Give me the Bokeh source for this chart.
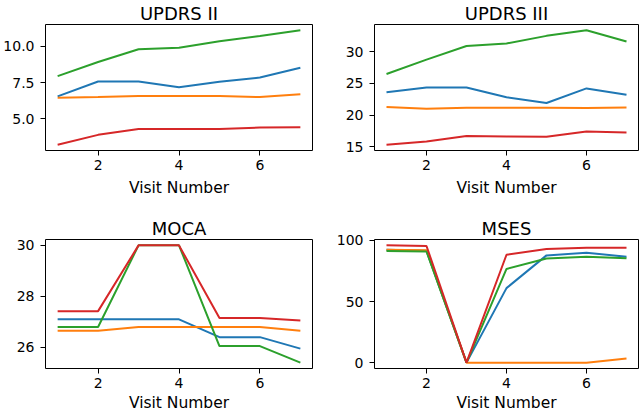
from bokeh.plotting import figure
from bokeh.layouts import gridplot
from bokeh.models import Range1d, FixedTicker, PrintfTickFormatter, Title
from bokeh.embed import file_html
from bokeh.resources import INLINE

visits = [1, 2, 3, 4, 5, 6, 7]
x_ticks = [2, 4, 6]
x_label = "Visit Number"
colors = ["#1f77b4", "#ff7f0e", "#2ca02c", "#d62728"]

# UPDRS II
updrs2_blue = [6.55, 7.57, 7.57, 7.18, 7.55, 7.84, 8.52]
updrs2_orange = [6.46, 6.50, 6.57, 6.57, 6.57, 6.50, 6.69]
updrs2_green = [7.94, 8.91, 9.78, 9.89, 10.34, 10.70, 11.09]
updrs2_red = [3.23, 3.91, 4.32, 4.32, 4.32, 4.41, 4.44]
updrs2_ticks = [5.0, 7.5, 10.0]

# UPDRS III
updrs3_blue = [23.6, 24.33, 24.33, 22.8, 21.9, 24.2, 23.2]
updrs3_orange = [21.25, 21.0, 21.15, 21.15, 21.15, 21.1, 21.2]
updrs3_green = [26.47, 28.75, 30.89, 31.3, 32.5, 33.39, 31.6]
updrs3_red = [15.3, 15.83, 16.67, 16.6, 16.55, 17.4, 17.25]
updrs3_ticks = [15, 20, 25, 30]

# MOCA
moca_blue = [27.1, 27.1, 27.1, 27.1, 26.4, 26.4, 25.95]
moca_orange = [26.65, 26.65, 26.8, 26.8, 26.8, 26.8, 26.65]
moca_green = [26.8, 26.8, 30.0, 30.0, 26.05, 26.05, 25.4]
moca_red = [27.42, 27.42, 30.0, 30.0, 27.15, 27.15, 27.05]
moca_ticks = [26, 28, 30]

# MSES
mses_blue = [92.5, 91.5, 0.0, 61.0, 87.8, 90.0, 86.7]
mses_orange = [92.5, 92.0, 0.0, 0.0, 0.0, 0.0, 3.3]
mses_green = [91.4, 91.0, 0.0, 76.7, 85.3, 86.7, 85.5]
mses_red = [96.0, 95.5, 0.0, 88.3, 93.0, 94.0, 94.0]
mses_ticks = [0, 50, 100]

FONT = "DejaVu Sans"


def make(title, series, yticks, fmt, width, height, mbl, mbr, mbt, mbb, xlab_standoff):
    allv = [v for s in series for v in s]
    lo, hi = min(allv), max(allv)
    pad = 0.05 * (hi - lo)
    xlo, xhi = min(visits), max(visits)
    xpad = 0.05 * (xhi - xlo)
    p = figure(width=width, height=height, output_backend="svg", toolbar_location=None,
               x_range=Range1d(xlo - xpad, xhi + xpad), y_range=Range1d(lo - pad, hi + pad),
               min_border_left=mbl, min_border_right=mbr, min_border_top=mbt, min_border_bottom=mbb)
    p.title = Title(text=title, align="center", text_font=FONT, text_font_size="18px",
                    text_font_style="normal", text_color="black", standoff=1)
    p.grid.visible = False
    p.outline_line_color = "black"
    p.outline_line_alpha = 1
    p.outline_line_width = 1
    p.background_fill_color = "white"
    p.border_fill_color = "white"
    for s, c in zip(series, colors):
        p.line(visits, s, line_color=c, line_width=2)
    for ax in (p.xaxis[0], p.yaxis[0]):
        ax.axis_line_color = None
        ax.major_tick_out = 5
        ax.major_tick_in = 0
        ax.minor_tick_out = 0
        ax.minor_tick_in = 0
        ax.major_tick_line_color = "black"
        ax.major_tick_line_width = 1
        ax.major_label_text_font = FONT
        ax.major_label_text_font_size = "14px"
        ax.major_label_text_color = "black"
    p.xaxis[0].ticker = FixedTicker(ticks=x_ticks)
    p.xaxis[0].major_label_standoff = 4
    p.xaxis[0].axis_label = x_label
    p.xaxis[0].axis_label_text_font = FONT
    p.xaxis[0].axis_label_text_font_size = "15.5px"
    p.xaxis[0].axis_label_text_font_style = "normal"
    p.xaxis[0].axis_label_text_color = "black"
    p.xaxis[0].axis_label_standoff = xlab_standoff
    p.yaxis[0].ticker = FixedTicker(ticks=yticks)
    p.yaxis[0].formatter = PrintfTickFormatter(format=fmt)
    p.yaxis[0].major_label_standoff = 6
    p.yaxis[0].major_label_orientation = "horizontal"
    return p


p1 = make("UPDRS II", [updrs2_blue, updrs2_orange, updrs2_green, updrs2_red], updrs2_ticks, "%.1f",
          333, 213, 45, 21, 0, 63, 6)
p2 = make("UPDRS III", [updrs3_blue, updrs3_orange, updrs3_green, updrs3_red], updrs3_ticks, "%d",
          307, 213, 40, 2, 0, 63, 6)
p3 = make("MOCA", [moca_blue, moca_orange, moca_green, moca_red], moca_ticks, "%d",
          333, 201, 45, 21, 26, 46, 3)
p4 = make("MSES", [mses_blue, mses_orange, mses_green, mses_red], mses_ticks, "%d",
          307, 201, 40, 2, 26, 46, 3)

grid = gridplot([[p1, p2], [p3, p4]], toolbar_location=None)

open("out.html", "w").write(file_html(grid, INLINE))
